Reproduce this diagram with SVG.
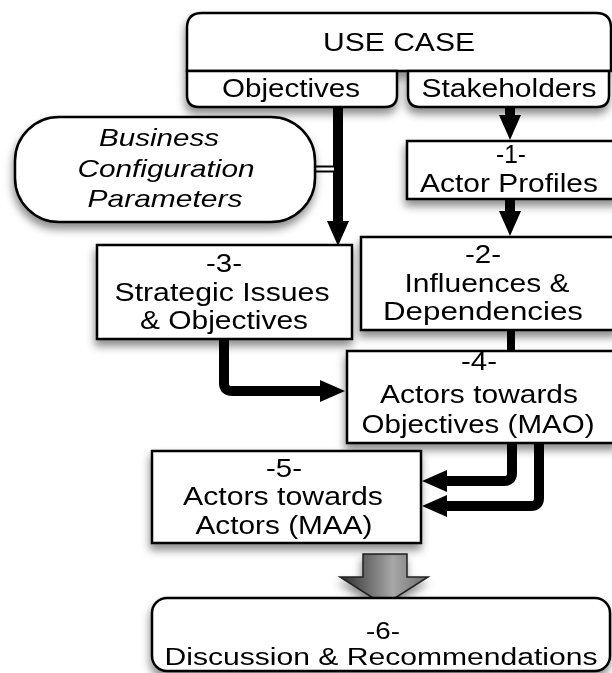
<svg xmlns="http://www.w3.org/2000/svg" width="612" height="673" viewBox="0 0 612 673">
<defs>
  <filter id="sh" x="-20%" y="-20%" width="140%" height="160%">
    <feDropShadow dx="-1" dy="6" stdDeviation="4" flood-color="#000" flood-opacity="0.45"/>
  </filter>
  <marker id="ah" markerUnits="userSpaceOnUse" markerWidth="26" markerHeight="22" refX="0" refY="11" orient="auto">
    <path d="M0,0 L25,11 L0,22 Z" fill="#000"/>
  </marker>
  <linearGradient id="gg" x1="0" y1="0" x2="1" y2="0">
    <stop offset="0" stop-color="#2a2a2a"/>
    <stop offset="0.6" stop-color="#a8a8a8"/>
    <stop offset="1" stop-color="#6a6a6a"/>
  </linearGradient>
  <style>
    .box { fill: #fff; stroke: #000; stroke-width: 2.5; }
    .t { font-family: "Liberation Sans", Arial, sans-serif; font-size: 25px; fill: #000; text-anchor: middle; }
    .it { font-style: italic; font-size: 24px; }
    .big { font-size: 26px; }
    .sm { font-size: 23px; }
    .c { fill: none; stroke: #000; stroke-width: 10; stroke-linejoin: round; }
  </style>
</defs>

<g id="connectors">
  <path class="c" d="M338,106 V221" marker-end="url(#ah)"/>
  <path class="c" d="M510,106 V115" marker-end="url(#ah)"/>
  <path class="c" d="M510,199 V211" marker-end="url(#ah)"/>
  <path class="c" d="M511,329 V352" style="stroke-width:8"/>
  <path class="c" d="M224,338 V383 Q224,391 232,391 H320" marker-end="url(#ah)"/>
  <path class="c" d="M512,442 V473 Q512,481 504,481 H447" marker-end="url(#ah)"/>
  <path class="c" d="M539,442 V498 Q539,506 531,506 H447" marker-end="url(#ah)"/>
  <line x1="314" y1="169" x2="334" y2="169" stroke="#000" stroke-width="7"/>
  <line x1="314" y1="169" x2="334" y2="169" stroke="#fff" stroke-width="3"/>
  <path d="M363,554 H407 V577 H428 L384,605 L340,577 H363 Z" fill="url(#gg)" stroke="#222" stroke-width="1.5" filter="url(#sh)"/>
</g>

<g id="usecase" filter="url(#sh)">
  <path class="box" d="M187,71 V28 Q187,13 202,13 H596 Q611,13 611,28 V71 Z"/>
  <path class="box" d="M187,71 H397 V95 Q397,107 385,107 H199 Q187,107 187,95 Z"/>
  <path class="box" d="M408,71 H609 V95 Q609,107 597,107 H420 Q408,107 408,95 Z"/>
  <text class="t big" x="399" y="51" textLength="152" lengthAdjust="spacingAndGlyphs">USE CASE</text>
  <text class="t big" x="291" y="97" textLength="138" lengthAdjust="spacingAndGlyphs">Objectives</text>
  <text class="t big" x="509" y="97" textLength="175" lengthAdjust="spacingAndGlyphs">Stakeholders</text>
</g>

<g id="business" filter="url(#sh)">
  <rect class="box" x="15" y="117" width="300" height="105" rx="44" ry="44"/>
  <text class="t it" x="159" y="146" textLength="120" lengthAdjust="spacingAndGlyphs">Business</text>
  <text class="t it" x="166" y="177" textLength="177" lengthAdjust="spacingAndGlyphs">Configuration</text>
  <text class="t it" x="165" y="207" textLength="155" lengthAdjust="spacingAndGlyphs">Parameters</text>
</g>

<g id="n1" filter="url(#sh)">
  <rect class="box" x="407" y="141" width="210" height="58"/>
  <text class="t" x="511" y="163" textLength="30" lengthAdjust="spacingAndGlyphs">-1-</text>
  <text class="t" x="509" y="192" textLength="178" lengthAdjust="spacingAndGlyphs">Actor Profiles</text>
</g>

<g id="n2" filter="url(#sh)">
  <rect class="box" x="361" y="237" width="256" height="93"/>
  <text class="t" x="483" y="263" textLength="36" lengthAdjust="spacingAndGlyphs">-2-</text>
  <text class="t" x="487" y="292" textLength="165" lengthAdjust="spacingAndGlyphs">Influences &amp;</text>
  <text class="t" x="483" y="320" textLength="200" lengthAdjust="spacingAndGlyphs">Dependencies</text>
</g>

<g id="n3" filter="url(#sh)">
  <rect class="box" x="97" y="245" width="255" height="94"/>
  <text class="t" x="224" y="272" textLength="36" lengthAdjust="spacingAndGlyphs">-3-</text>
  <text class="t" x="222" y="301" textLength="215" lengthAdjust="spacingAndGlyphs">Strategic Issues</text>
  <text class="t" x="224" y="329" textLength="168" lengthAdjust="spacingAndGlyphs">&amp; Objectives</text>
</g>

<g id="n4" filter="url(#sh)">
  <rect class="box" x="347" y="351" width="270" height="92"/>
  <text class="t" x="479" y="370" textLength="36" lengthAdjust="spacingAndGlyphs">-4-</text>
  <text class="t" x="479" y="403" textLength="198" lengthAdjust="spacingAndGlyphs">Actors towards</text>
  <text class="t" x="478" y="433" textLength="233" lengthAdjust="spacingAndGlyphs">Objectives (MAO)</text>
</g>

<g id="n5" filter="url(#sh)">
  <rect class="box" x="152" y="451" width="269" height="92"/>
  <text class="t" x="284" y="477" textLength="36" lengthAdjust="spacingAndGlyphs">-5-</text>
  <text class="t" x="283" y="505" textLength="200" lengthAdjust="spacingAndGlyphs">Actors towards</text>
  <text class="t" x="284" y="534" textLength="177" lengthAdjust="spacingAndGlyphs">Actors (MAA)</text>
</g>

<g id="n6" filter="url(#sh)">
  <rect class="box" x="152" y="598" width="458" height="73" rx="15" ry="15"/>
  <text class="t sm" x="383" y="639" textLength="34" lengthAdjust="spacingAndGlyphs">-6-</text>
  <text class="t sm" x="381" y="665" textLength="433" lengthAdjust="spacingAndGlyphs">Discussion &amp; Recommendations</text>
</g>
</svg>
